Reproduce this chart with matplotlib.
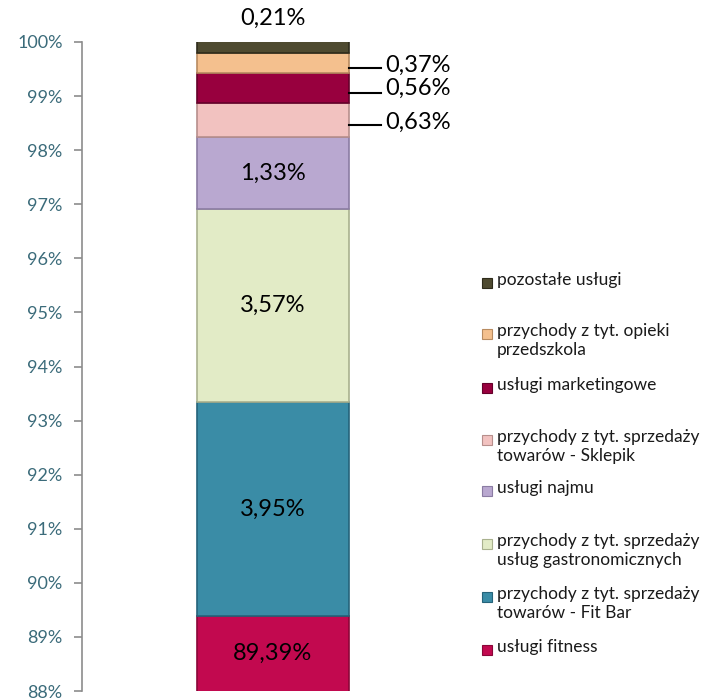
import numpy as np
import matplotlib.pyplot as plt
from matplotlib.patches import Rectangle

# segments, bottom to top
names = ['usługi fitness',
         'przychody z tyt. sprzedaży\ntowarów - Fit Bar',
         'przychody z tyt. sprzedaży\nusług gastronomicznych',
         'usługi najmu',
         'przychody z tyt. sprzedaży\ntowarów - Sklepik',
         'usługi marketingowe',
         'przychody z tyt. opieki\nprzedszkola',
         'pozostałe usługi']
shares = [89.39, 3.95, 3.57, 1.33, 0.63, 0.56, 0.37, 0.21]
labels = ['89,39%', '3,95%', '3,57%', '1,33%', '0,63%', '0,56%', '0,37%', '0,21%']
colors = ['#C2094F', '#3A8CA6', '#E2EBC6', '#B9A8D0', '#F2C2C0', '#98003E', '#F4C08E', '#4E4A30']
edges = ['#8A0638', '#25637A', '#A9B18E', '#8B7CA3', '#B78F8C', '#65002A', '#B88B60', '#2E2B1B']
yticks = np.arange(88, 101, 1)

plt.rcParams['font.family'] = ['Lato', 'DejaVu Sans']

fig = plt.figure(figsize=(7.02, 6.99), dpi=100)
ax = fig.add_axes([82 / 702, 1 - 691 / 699, 380 / 702, 649 / 699])

bottoms = np.concatenate([[0], np.cumsum(shares)[:-1]])
xc = (273 - 82) / 380
w = 152 / 380
for s, b, c, e in zip(shares, bottoms, colors, edges):
    ax.bar(xc, s, bottom=b, width=w, color=c, edgecolor=e, linewidth=1.2, zorder=2)

ax.set_xlim(0, 1)
ax.set_ylim(88, 100)
ax.set_yticks(yticks)
ax.set_yticklabels([f'{t}%' for t in yticks])
ax.tick_params(axis='y', direction='out', length=6, width=1.2, color='#8C8C8C',
               labelcolor='#3B6B7A', labelsize=13, pad=8)
ax.set_xticks([])
for sp in ['top', 'right', 'bottom']:
    ax.spines[sp].set_visible(False)
ax.spines['left'].set_color('#8C8C8C')
ax.spines['left'].set_linewidth(1.2)

# labels inside the bar
for i in [0, 1, 2, 3]:
    lo = max(bottoms[i], 88)
    ax.text(xc, (lo + bottoms[i] + shares[i]) / 2, labels[i], ha='center', va='center',
            fontsize=17, color='black', zorder=3)

# small segments: outside labels with leader lines
x_right = xc + w / 2
outside = {4: -0.035, 5: 0.0, 6: -0.045}
for i, dy in outside.items():
    ym = bottoms[i] + shares[i] / 2
    ax.plot([x_right, x_right + 0.085], [ym - 0.09, ym - 0.09], color='black', lw=1.5,
            zorder=3, clip_on=False)
    ax.text(x_right + 0.095, ym + dy, labels[i], ha='left', va='center', fontsize=17,
            color='black', clip_on=False)
ax.text(xc, 100.43, labels[7], ha='center', va='center', fontsize=17, color='black', clip_on=False)

# legend, top entry first
leg_y = [283, 334, 388, 440, 491, 544, 597, 650]
for name, c, e, y in zip(names[::-1], colors[::-1], edges[::-1], leg_y):
    fig.patches.append(Rectangle((482 / 702, 1 - (y + 5) / 699), 10 / 702, 10 / 699,
                                 transform=fig.transFigure, facecolor=c, edgecolor=e, lw=0.8))
    fig.text(497 / 702, 1 - (y - 11) / 699, name, ha='left', va='top', fontsize=12.5,
             color='#1A1A1A', linespacing=1.25)

fig.savefig('out.png', dpi=100)
